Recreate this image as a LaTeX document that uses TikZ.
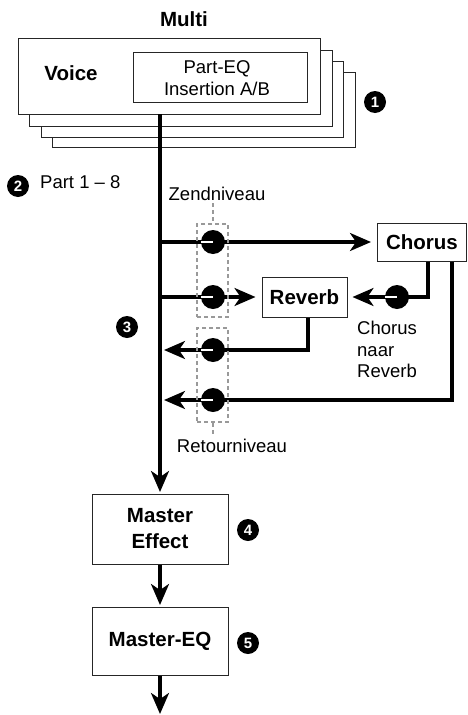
\documentclass[tikz,border=0pt]{standalone}
\usepackage{fontspec}
\setmainfont{Liberation Sans}
\usetikzlibrary{arrows.meta}
\begin{document}
\begin{tikzpicture}[x=1pt,y=-1pt,
  box/.style={draw=black!85, line width=1pt, fill=white, inner sep=0pt, align=center},
  lbl/.style={font=\fontsize{18.5}{22}\selectfont, inner sep=0pt},
  blbl/.style={font=\fontsize{20.5}{26}\selectfont\bfseries, inner sep=0pt},
  sig/.style={line width=3.2pt, draw=black},
  tip/.style={-{Stealth[length=21pt,width=18pt,inset=6pt]}},
  knob/.style={circle, fill=black, minimum size=24pt, inner sep=0pt},
  pointer/.style={draw=white, line width=2pt},
  num/.style={circle, fill=black, text=white, minimum size=22pt, inner sep=0pt,
              font=\fontsize{15}{15}\selectfont\bfseries},
  lvl/.style={draw=black!40, line width=1.5pt, dash pattern=on 4pt off 3pt},
]
\useasboundingbox (0,0) rectangle (467,715);

% stacked part layers, back to front
\node[box, minimum width=303, minimum height=75] (layer3) at (203.5,109.5) {};
\node[box, minimum width=302, minimum height=76] (layer2) at (192,99) {};
\node[box, minimum width=303, minimum height=76] (layer1) at (180.5,88) {};
\node[box, minimum width=302, minimum height=76] (voice) at (169,76) {};

\node[blbl, anchor=base] (multi) at (184,26) {Multi};
\node[blbl, anchor=base] (voicelbl) at (71,80) {Voice};
\node[box, minimum width=174, minimum height=50] (peq) at (220,77) {};
\node[lbl, anchor=base] (peq1) at (217,73) {Part-EQ};
\node[lbl, anchor=base] (peq2) at (217,95) {Insertion A/B};

\node[num] (n1) at (375,102) {1};
\node[num] (n2) at (18,186) {2};
\node[lbl, anchor=base west] (parts) at (40,188) {Part 1 – 8};

% effect blocks
\node[box, blbl, minimum width=89, minimum height=38] (chorus) at (422,242) {Chorus};
\node[box, blbl, minimum width=85, minimum height=40] (reverb) at (304.5,297) {Reverb};
\node[box, blbl, minimum width=136, minimum height=70] (mfx) at (160,529) {Master\\Effect};
\node[box, blbl, minimum width=136, minimum height=68] (meq) at (160,641) {Master-EQ};

% level control positions
\coordinate (bus) at (160,114);
\coordinate (pA) at (213,242);
\coordinate (pB) at (213,297);
\coordinate (pC) at (397,297);
\coordinate (pD) at (213,350);
\coordinate (pE) at (213,400);
\coordinate (out) at (160,714);

% main signal path
\draw[sig, tip, shorten >=1.5pt] (bus) -- (mfx.north);
\draw[sig, tip, shorten >=1.5pt] (mfx.south) -- (meq.north);
\draw[sig, tip] (meq.south) -- (out);

% sends
\draw[sig, tip, shorten >=6pt] (pA -| bus) -- (chorus.west);
\draw[sig, tip, shorten >=6pt] (pB -| bus) -- (reverb.west);
\draw[sig, tip, shorten >=5pt] ([xshift=6pt]chorus.south) |- (reverb.east);

% returns
\draw[sig, tip, shorten >=4pt] ([xshift=3.5pt]reverb.south) |- (pD -| bus);
\draw[sig, tip, shorten >=4pt] ([xshift=30pt]chorus.south) |- (pE -| bus);

% level groups
\node[lvl, minimum width=31, minimum height=93, inner sep=0pt] (sendlvl) at (212.5,270.5) {};
\node[lvl, minimum width=31, minimum height=94, inner sep=0pt] (retlvl) at (212.5,375) {};
\coordinate (zd) at (213,203);
\coordinate (rd) at (213,434);
\draw[lvl] (zd) -- (zd |- sendlvl.north);
\draw[lvl] (retlvl.south -| rd) -- (rd);
\node[lbl, anchor=base] (zend) at (217,200) {Zendniveau};
\node[lbl, anchor=base] (retour) at (232,452) {Retourniveau};

% level knobs
\foreach \k in {A,B,C,D,E} {
  \node[knob] (k\k) at (p\k) {};
  \draw[pointer] (k\k.west) -- (k\k.center);
}

\node[lbl, align=left, anchor=north west, font=\fontsize{18.5}{21.5}\selectfont] (cnr) at (357,321) {Chorus\\naar\\Reverb};

\node[num] (n3) at (127,327) {3};
\node[num] (n4) at (248,530) {4};
\node[num] (n5) at (248,643) {5};
\end{tikzpicture}
\end{document}
